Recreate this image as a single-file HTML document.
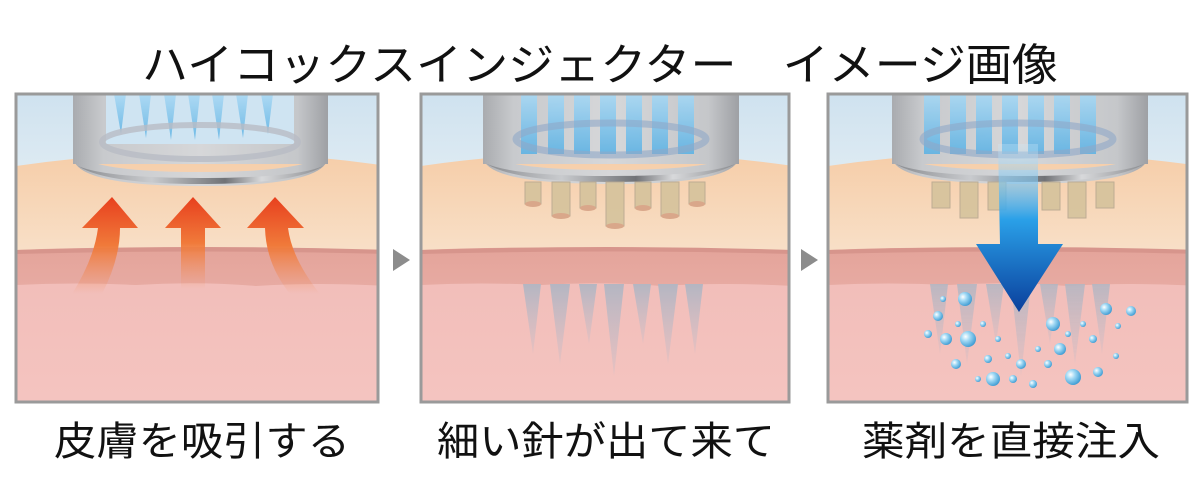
<!DOCTYPE html>
<html><head><meta charset="utf-8"><style>
html,body{margin:0;padding:0;background:#fff;width:1200px;height:500px;overflow:hidden}
svg{display:block}
text{font-family:"Liberation Sans","Noto Sans CJK JP",sans-serif;fill:#111}
</style></head><body>
<svg width="1200" height="500" viewBox="0 0 1200 500" xmlns="http://www.w3.org/2000/svg">
<defs>
<linearGradient id="sky" x1="0" y1="0" x2="0" y2="1"><stop offset="0" stop-color="#cfe2ef"/><stop offset="1" stop-color="#deebf3"/></linearGradient>
<linearGradient id="skin" x1="0" y1="0" x2="0" y2="1"><stop offset="0" stop-color="#f6cda8"/><stop offset="1" stop-color="#f8e0c8"/></linearGradient>
<linearGradient id="derm" x1="0" y1="0" x2="0" y2="1"><stop offset="0" stop-color="#e4a49a"/><stop offset="1" stop-color="#e7aaa2"/></linearGradient>
<linearGradient id="low" x1="0" y1="0" x2="0" y2="1"><stop offset="0" stop-color="#efb5b0"/><stop offset="1" stop-color="#f4c4c0"/></linearGradient>
<linearGradient id="metal" x1="0" y1="0" x2="1" y2="0"><stop offset="0" stop-color="#a9abaf"/><stop offset=".12" stop-color="#c8cacd"/><stop offset=".5" stop-color="#d6d7d9"/><stop offset=".88" stop-color="#c5c7ca"/><stop offset="1" stop-color="#9ea0a4"/></linearGradient>
<linearGradient id="rim" x1="0" y1="0" x2="1" y2="0"><stop offset="0" stop-color="#8a8c90"/><stop offset=".3" stop-color="#c9cbce"/><stop offset=".6" stop-color="#707276"/><stop offset=".75" stop-color="#d8d9db"/><stop offset="1" stop-color="#8a8c90"/></linearGradient>
<linearGradient id="needle" x1="0" y1="0" x2="0" y2="1"><stop offset="0" stop-color="#a8d8f4"/><stop offset="1" stop-color="#5fb3e4"/></linearGradient>
<linearGradient id="uparrow" x1="0" y1="0" x2="0" y2="1"><stop offset="0" stop-color="#e8401e"/><stop offset=".5" stop-color="#f07a3a"/><stop offset="1" stop-color="#f29060" stop-opacity="0"/></linearGradient>
<linearGradient id="blue" x1="0" y1="0" x2="0" y2="1"><stop offset="0" stop-color="#cfe8f6" stop-opacity=".3"/><stop offset=".45" stop-color="#2aa0e8"/><stop offset="1" stop-color="#0a3f9c"/></linearGradient>
<linearGradient id="deepneedle" x1="0" y1="0" x2="0" y2="1"><stop offset="0" stop-color="#b4b6c2"/><stop offset="1" stop-color="#c8bcc6" stop-opacity=".3"/></linearGradient>
<radialGradient id="bub" cx=".35" cy=".35" r=".7"><stop offset="0" stop-color="#ffffff"/><stop offset=".4" stop-color="#9fd8f4"/><stop offset="1" stop-color="#3c9ad2"/></radialGradient>
<clipPath id="c1"><rect x="0" y="0" width="362" height="308"/></clipPath>
<clipPath id="c2"><rect x="0" y="0" width="368" height="308"/></clipPath>
<clipPath id="c3"><rect x="0" y="0" width="359" height="308"/></clipPath>

<g id="bg">
  <rect x="0" y="0" width="372" height="308" fill="url(#low)"/>
  <rect x="0" y="0" width="372" height="80" fill="url(#sky)"/>
  <path d="M0 72 Q186 45 372 72 L372 160 L0 160 Z" fill="url(#skin)"/>
  <path d="M0 156 Q90 152 186 155 T372 156 L372 192 Q300 188 240 192 Q180 187 120 191 Q60 188 0 191 Z" fill="url(#derm)"/>
  <path d="M0 156 Q186 150 372 156 L372 160 Q186 155 0 160Z" fill="#d7958c"/>
</g>
<g id="deep">
  <path d="M102 190h18l-8 70z"/><path d="M129 190h20l-10 80z"/><path d="M158 190h18l-8 60z"/><path d="M183 190h20l-10 92z"/><path d="M212 190h18l-8 60z"/><path d="M237 190h20l-10 80z"/><path d="M264 190h18l-8 70z"/>
</g>
</defs>

<text x="600" y="80" font-size="44" text-anchor="middle" textLength="916" lengthAdjust="spacingAndGlyphs">ハイコックスインジェクター　イメージ画像</text>

<!-- Panel 1 -->
<g transform="translate(16,94)" clip-path="url(#c1)">
  <use href="#bg"/>
  <rect x="57" y="0" width="255" height="70" fill="url(#metal)"/>
  <rect x="90" y="0" width="188" height="50" fill="#cfe4f2"/>
  <g fill="url(#needle)" opacity=".85">
    <path d="M98 0h12l-5 40z"/><path d="M123 0h12l-5 44z"/><path d="M148 0h12l-5 46z"/><path d="M172 0h12l-5 46z"/><path d="M196 0h12l-5 46z"/><path d="M220 0h12l-5 44z"/><path d="M245 0h12l-5 40z"/>
  </g>
  <ellipse cx="184" cy="48" rx="98" ry="17" fill="none" stroke="#b8bcc4" stroke-width="6" opacity=".8"/>
  <path d="M57 62 Q57 92 184 92 Q312 92 312 62 L312 52 Q312 78 184 78 Q57 78 57 52Z" fill="url(#metal)"/>
  <path d="M62 72 Q90 90 184 90 Q280 90 307 72 Q280 84 184 84 Q90 84 62 72Z" fill="url(#rim)"/>
  <g fill="url(#uparrow)">
    <path d="M96 103 L66 134 L82 134 Q78 165 56 200 L86 200 Q104 165 104 134 L122 134 Z"/>
    <path d="M177 103 L149 134 L165 134 L165 195 L189 195 L189 134 L205 134 Z"/>
    <path d="M259 103 L231 134 L249 134 Q250 170 274 200 L304 200 Q276 165 272 134 L288 134 Z"/>
  </g>
</g>
<rect x="16" y="94" width="362" height="308" fill="none" stroke="#9a9a9a" stroke-width="3"/>

<path d="M393 249 L410 260 L393 271Z" fill="#8c8c8c"/>
<path d="M801 249 L818 260 L801 271Z" fill="#8c8c8c"/>

<!-- Panel 2 -->
<g transform="translate(421,94)" clip-path="url(#c2)">
  <use href="#bg"/>
  <use href="#deep" fill="url(#deepneedle)"/>
  <rect x="62" y="0" width="256" height="70" fill="url(#metal)"/>
  <g fill="url(#needle)" opacity=".9">
    <rect x="100" y="0" width="16" height="60"/><rect x="127" y="0" width="16" height="60"/><rect x="153" y="0" width="16" height="60"/><rect x="179" y="0" width="16" height="60"/><rect x="205" y="0" width="16" height="60"/><rect x="231" y="0" width="16" height="60"/><rect x="257" y="0" width="16" height="60"/>
  </g>
  <ellipse cx="190" cy="45" rx="95" ry="16" fill="none" stroke="#8fa8c8" stroke-width="7" opacity=".6"/>
  <path d="M62 62 Q62 90 190 90 Q318 90 318 62 L318 52 Q318 76 190 76 Q62 76 62 52Z" fill="url(#metal)"/>
  <path d="M66 70 Q95 88 190 88 Q285 88 314 70 Q285 82 190 82 Q95 82 66 70Z" fill="url(#rim)"/>
  <g fill="#d5c39c" stroke="#b8a890" stroke-width="1" opacity=".9">
    <rect x="104" y="88" width="16" height="22"/><rect x="131" y="88" width="18" height="34"/><rect x="159" y="88" width="16" height="26"/><rect x="185" y="88" width="18" height="44"/><rect x="214" y="88" width="16" height="26"/><rect x="240" y="88" width="18" height="34"/><rect x="268" y="88" width="16" height="22"/>
  </g>
  <g fill="#d9a78a"><ellipse cx="112" cy="110" rx="8" ry="3"/><ellipse cx="140" cy="122" rx="9" ry="3"/><ellipse cx="167" cy="114" rx="8" ry="3"/><ellipse cx="194" cy="132" rx="9" ry="3"/><ellipse cx="222" cy="114" rx="8" ry="3"/><ellipse cx="249" cy="122" rx="9" ry="3"/><ellipse cx="276" cy="110" rx="8" ry="3"/></g>
</g>
<rect x="421" y="94" width="368" height="308" fill="none" stroke="#9a9a9a" stroke-width="3"/>

<!-- Panel 3 -->
<g transform="translate(828,94)" clip-path="url(#c3)">
  <use href="#bg"/>
  <use href="#deep" fill="url(#deepneedle)" opacity=".9"/>
  <rect x="64" y="0" width="256" height="70" fill="url(#metal)"/>
  <g fill="url(#needle)" opacity=".9">
    <rect x="96" y="0" width="16" height="60"/><rect x="122" y="0" width="16" height="60"/><rect x="148" y="0" width="16" height="60"/><rect x="174" y="0" width="16" height="60"/><rect x="200" y="0" width="16" height="60"/><rect x="226" y="0" width="16" height="60"/><rect x="252" y="0" width="16" height="60"/>
  </g>
  <ellipse cx="190" cy="45" rx="95" ry="16" fill="none" stroke="#8fa8c8" stroke-width="7" opacity=".6"/>
  <path d="M64 62 Q64 90 192 90 Q320 90 320 62 L320 52 Q320 76 192 76 Q64 76 64 52Z" fill="url(#metal)"/>
  <path d="M68 70 Q97 88 192 88 Q287 88 316 70 Q287 82 192 82 Q97 82 68 70Z" fill="url(#rim)"/>
  <g fill="#d5c39c" stroke="#b8a890" stroke-width="1" opacity=".9">
    <rect x="104" y="88" width="18" height="26"/><rect x="132" y="88" width="18" height="36"/><rect x="160" y="88" width="18" height="28"/><rect x="214" y="88" width="18" height="28"/><rect x="240" y="88" width="18" height="36"/><rect x="268" y="88" width="18" height="26"/>
  </g>
  <path d="M170 50 L210 50 L210 150 L235 150 L191 218 L148 150 L172 150Z" fill="url(#blue)"/>
  <g fill="url(#bub)">
    <circle cx="137" cy="205" r="7"/><circle cx="110" cy="222" r="5"/><circle cx="100" cy="240" r="4"/><circle cx="118" cy="245" r="6"/><circle cx="140" cy="245" r="8"/><circle cx="128" cy="270" r="5"/><circle cx="160" cy="265" r="4"/><circle cx="165" cy="285" r="7"/><circle cx="185" cy="285" r="4"/><circle cx="155" cy="230" r="3"/><circle cx="130" cy="230" r="3"/><circle cx="170" cy="245" r="3"/><circle cx="193" cy="270" r="5"/><circle cx="205" cy="290" r="4"/><circle cx="220" cy="270" r="4"/><circle cx="232" cy="255" r="6"/><circle cx="245" cy="283" r="8"/><circle cx="225" cy="230" r="7"/><circle cx="265" cy="245" r="4"/><circle cx="278" cy="215" r="6"/><circle cx="290" cy="232" r="3"/><circle cx="303" cy="217" r="5"/><circle cx="288" cy="262" r="3"/><circle cx="270" cy="278" r="5"/><circle cx="255" cy="230" r="3"/><circle cx="150" cy="285" r="3"/><circle cx="180" cy="262" r="3"/><circle cx="115" cy="205" r="3"/><circle cx="210" cy="255" r="3"/><circle cx="240" cy="240" r="3"/>
  </g>
</g>
<rect x="828" y="94" width="359" height="308" fill="none" stroke="#9a9a9a" stroke-width="3"/>

<text x="202" y="455" font-size="40" text-anchor="middle" textLength="296" lengthAdjust="spacingAndGlyphs">皮膚を吸引する</text>
<text x="606" y="455" font-size="40" text-anchor="middle" textLength="338" lengthAdjust="spacingAndGlyphs">細い針が出て来て</text>
<text x="1011" y="455" font-size="40" text-anchor="middle" textLength="298" lengthAdjust="spacingAndGlyphs">薬剤を直接注入</text>
</svg>
</body></html>
